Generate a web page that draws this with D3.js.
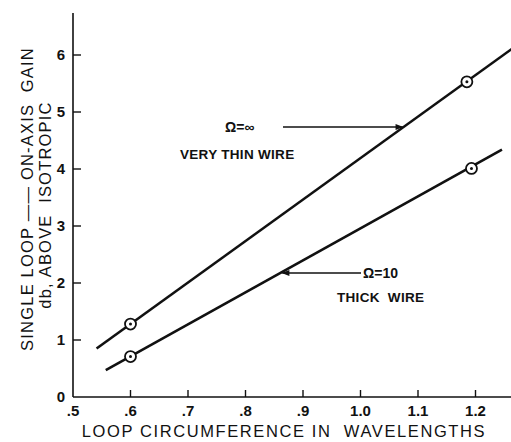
<!DOCTYPE html>
<html>
<head>
<meta charset="utf-8">
<script src="https://cdn.jsdelivr.net/npm/d3@7"></script>
<style>
  body { margin: 0; background: #fff; }
  text { font-family: "Liberation Sans", "DejaVu Sans", sans-serif; fill: #111; }
</style>
</head>
<body>
<div id="chart"></div>
<script>
// values
var xTicks = [0.5, 0.6, 0.7, 0.8, 0.9, 1.0, 1.1, 1.2];
var xTickLabels = [".5", ".6", ".7", ".8", ".9", "1.0", "1.1", "1.2"];
var yTicks = [0, 1, 2, 3, 4, 5, 6];
var yTickLabels = ["0", "1", "2", "3", "4", "5", "6"];

// Ω = ∞ (very thin wire)
var thinLine = [[0.541, 0.85], [1.265, 6.12]];
var thinPoints = [[0.6, 1.28], [1.185, 5.53]];
// Ω = 10 (thick wire)
var thickLine = [[0.557, 0.47], [1.246, 4.34]];
var thickPoints = [[0.6, 0.71], [1.193, 4.01]];

var width = 511, height = 442;

var svg = d3.select("#chart")
  .append("svg")
  .attr("width", width)
  .attr("height", height);

var x = d3.scaleLinear().domain([0.5, 1.2]).range([73, 475.5]);
var y = d3.scaleLinear().domain([0, 6]).range([397, 55]);

// axes lines
svg.append("line")
  .attr("x1", x(0.5)).attr("x2", width)
  .attr("y1", y(0)).attr("y2", y(0))
  .attr("stroke", "#111").attr("stroke-width", 1.6);
svg.append("line")
  .attr("x1", x(0.5)).attr("x2", x(0.5))
  .attr("y1", y(0)).attr("y2", 13)
  .attr("stroke", "#111").attr("stroke-width", 1.6);

// x ticks (pointing up, inside)
svg.selectAll(".xt")
  .data(xTicks.slice(1))
  .enter().append("line")
  .attr("x1", d => x(d)).attr("x2", d => x(d))
  .attr("y1", y(0)).attr("y2", y(0) - 7)
  .attr("stroke", "#111").attr("stroke-width", 1.4);

svg.selectAll(".xl")
  .data(xTicks)
  .enter().append("text")
  .attr("x", d => x(d))
  .attr("y", y(0) + 19)
  .attr("text-anchor", "middle")
  .attr("font-size", 15)
  .attr("font-weight", "bold")
  .text((d, i) => xTickLabels[i]);

// y ticks (pointing right, inside)
svg.selectAll(".yt")
  .data(yTicks.slice(1))
  .enter().append("line")
  .attr("x1", x(0.5)).attr("x2", x(0.5) + 8)
  .attr("y1", d => y(d)).attr("y2", d => y(d))
  .attr("stroke", "#111").attr("stroke-width", 1.4);

svg.selectAll(".yl")
  .data(yTicks)
  .enter().append("text")
  .attr("x", x(0.5) - 8)
  .attr("y", d => y(d) + 5)
  .attr("text-anchor", "end")
  .attr("font-size", 15)
  .attr("font-weight", "bold")
  .text((d, i) => yTickLabels[i]);

// axis titles
svg.append("text")
  .attr("transform", "translate(33,199) rotate(-90)")
  .attr("text-anchor", "middle")
  .attr("font-size", 16.5)
  .attr("letter-spacing", 1.2)
  .attr("xml:space", "preserve")
  .text("SINGLE LOOP —— ON-AXIS  GAIN");
svg.append("text")
  .attr("transform", "translate(51,205) rotate(-90)")
  .attr("text-anchor", "middle")
  .attr("font-size", 16.5)
  .attr("letter-spacing", 1.2)
  .attr("xml:space", "preserve")
  .text("db, ABOVE  ISOTROPIC");

svg.append("text")
  .attr("x", 284).attr("y", 437)
  .attr("text-anchor", "middle")
  .attr("font-size", 16.5)
  .attr("letter-spacing", 1.6)
  .attr("xml:space", "preserve")
  .text("LOOP CIRCUMFERENCE IN  WAVELENGTHS");

// lines
var line = d3.line().x(d => x(d[0])).y(d => y(d[1]));
[thinLine, thickLine].forEach(function(l) {
  svg.append("path")
    .datum(l)
    .attr("fill", "none")
    .attr("stroke", "#111")
    .attr("stroke-width", 2.6)
    .attr("d", line);
});

// circled points
[thinPoints, thickPoints].forEach(function(pts) {
  var g = svg.append("g");
  g.selectAll("circle.o")
    .data(pts)
    .enter().append("circle")
    .attr("cx", d => x(d[0])).attr("cy", d => y(d[1]))
    .attr("r", 5.5)
    .attr("fill", "#fff")
    .attr("stroke", "#111")
    .attr("stroke-width", 1.8);
  g.selectAll("circle.i")
    .data(pts)
    .enter().append("circle")
    .attr("cx", d => x(d[0])).attr("cy", d => y(d[1]))
    .attr("r", 1.5)
    .attr("fill", "#111");
});

// annotations with arrows
var defs = svg.append("defs");
defs.append("marker")
  .attr("id", "arr")
  .attr("viewBox", "0 0 10 10")
  .attr("refX", 9).attr("refY", 5)
  .attr("markerWidth", 9).attr("markerHeight", 6)
  .attr("orient", "auto-start-reverse")
  .append("path")
  .attr("d", "M0,1 L10,5 L0,9 Z")
  .attr("fill", "#111");

// Ω=∞ arrow pointing right to the thin wire line
var thinY = 127;
var thinX = x(thinLine[0][0] + (y.invert(thinY) - thinLine[0][1]) *
  (thinLine[1][0] - thinLine[0][0]) / (thinLine[1][1] - thinLine[0][1]));
svg.append("line")
  .attr("x1", 283).attr("x2", thinX - 1)
  .attr("y1", thinY).attr("y2", thinY)
  .attr("stroke", "#111").attr("stroke-width", 1.3)
  .attr("marker-end", "url(#arr)");
svg.append("text")
  .attr("x", 225).attr("y", thinY + 5)
  .attr("font-size", 14)
  .attr("font-weight", "bold")
  .text("Ω=∞");
svg.append("text")
  .attr("x", 180).attr("y", 159)
  .attr("font-size", 13.5)
  .attr("font-weight", "bold")
  .attr("letter-spacing", 0.3)
  .text("VERY THIN WIRE");

// Ω=10 arrow pointing left to the thick wire line
var thickY = 273;
var thickX = x(thickLine[0][0] + (y.invert(thickY) - thickLine[0][1]) *
  (thickLine[1][0] - thickLine[0][0]) / (thickLine[1][1] - thickLine[0][1]));
svg.append("line")
  .attr("x1", 361).attr("x2", thickX + 2)
  .attr("y1", thickY).attr("y2", thickY)
  .attr("stroke", "#111").attr("stroke-width", 1.3)
  .attr("marker-end", "url(#arr)");
svg.append("text")
  .attr("x", 363).attr("y", thickY + 5)
  .attr("font-size", 14)
  .attr("font-weight", "bold")
  .text("Ω=10");
svg.append("text")
  .attr("x", 337).attr("y", 302)
  .attr("font-size", 13.5)
  .attr("font-weight", "bold")
  .attr("letter-spacing", 0.3)
  .attr("xml:space", "preserve")
  .text("THICK  WIRE");
</script>
</body>
</html>
